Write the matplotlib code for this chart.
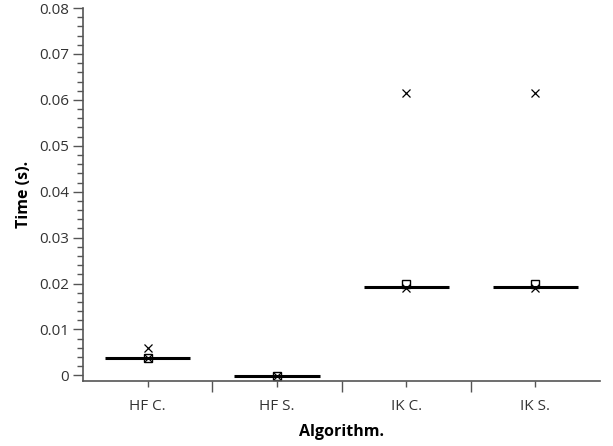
import numpy as np
import matplotlib
matplotlib.use("Agg")
import matplotlib.pyplot as plt
from matplotlib.ticker import MultipleLocator, FixedLocator

plt.rcParams['font.family'] = ['Open Sans', 'DejaVu Sans']

# Timing summaries per algorithm
algorithms = ['HF C.', 'HF S.', 'IK C.', 'IK S.']
medians = [0.0039, -0.0002, 0.0192, 0.0192]
means = [0.0039, -0.0001, 0.0199, 0.0199]
outliers = [[0.0060, 0.0039], [-0.0001], [0.0614, 0.0191], [0.0614, 0.0191]]

stats = []
for name, med, mu, fl in zip(algorithms, medians, means, outliers):
    stats.append(dict(label=name, med=med, q1=med, q3=med,
                      whislo=med, whishi=med, mean=mu, fliers=fl))

fig = plt.figure(figsize=(6.13, 4.46), dpi=100)
ax = fig.add_axes([0.1354, 0.1464, 0.8436, 0.8356])

pos = np.arange(1, len(algorithms) + 1)
ax.bxp(stats, positions=pos, widths=0.66, showmeans=True, showcaps=False,
       boxprops=dict(linewidth=0),
       whiskerprops=dict(linewidth=0),
       medianprops=dict(color='black', linewidth=2.2),
       meanprops=dict(marker='s', markerfacecolor='none', markeredgecolor='black',
                      markersize=6, markeredgewidth=1.0),
       flierprops=dict(marker='x', markeredgecolor='black', markersize=5.5,
                       markeredgewidth=0.9))

ax.set_xlim(0.5, len(algorithms) + 0.5)
ax.set_ylim(-0.00115, 0.08)

ax.set_xticks(pos)
ax.set_xticklabels(algorithms)
ax.xaxis.set_minor_locator(FixedLocator(pos[:-1] + 0.5))
ax.yaxis.set_major_locator(MultipleLocator(0.01))
ax.yaxis.set_minor_locator(MultipleLocator(0.002))
ax.set_yticklabels(['0' if abs(v) < 1e-9 else f'{v:.2f}' for v in ax.get_yticks()])

gray = '#555555'
for side in ('top', 'right'):
    ax.spines[side].set_visible(False)
for side in ('left', 'bottom'):
    ax.spines[side].set_color(gray)
    ax.spines[side].set_linewidth(1.2)

ax.tick_params(axis='x', which='major', length=4.3, width=1, color=gray,
               labelsize=11, labelcolor='#333333', pad=9)
ax.tick_params(axis='x', which='minor', length=8, width=1, color=gray)
ax.tick_params(axis='y', which='major', length=7, width=1, color=gray,
               labelsize=11, labelcolor='#333333', pad=3)
ax.tick_params(axis='y', which='minor', length=4.3, width=1, color=gray)

ax.set_xlabel('Algorithm.', fontweight='bold', fontsize=11.5, labelpad=7)
ax.set_ylabel('Time (s).', fontweight='bold', fontsize=11.5, labelpad=5)

fig.savefig('out.png', dpi=100)
